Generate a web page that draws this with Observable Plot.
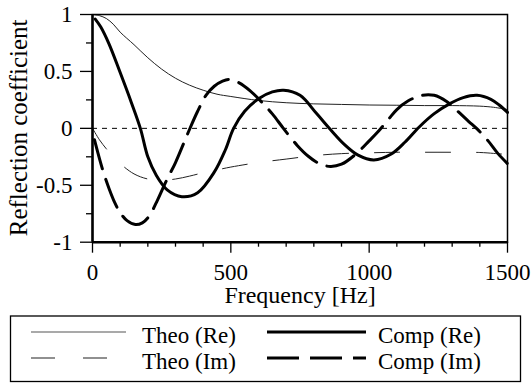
<!DOCTYPE html>
<html>
<head>
<meta charset="utf-8">
<script src="https://cdn.jsdelivr.net/npm/d3@7"></script>
<script src="https://cdn.jsdelivr.net/npm/@observablehq/plot@0.6"></script>
<style>
  html, body { margin: 0; padding: 0; background: #fff; }
  #wrap { position: relative; width: 531px; height: 383px; font-family: "Liberation Serif", "Times New Roman", serif; }
  #wrap svg, #wrap svg text { font-family: "Liberation Serif", "Times New Roman", serif !important; }
  #legend { position: absolute; left: 0; top: 314px; }
</style>
</head>
<body>
<div id="wrap"><div id="chart"></div><div id="legend"></div></div>
<script>
// ---- data ----
const freqTheo = [0, 25, 50, 75, 100, 150, 200, 250, 300, 350, 400, 450, 500, 600, 700, 800, 900, 1000, 1100, 1200, 1300, 1400, 1450, 1500];
const theoRe = [1.0, 0.99, 0.965, 0.915, 0.845, 0.735, 0.62, 0.52, 0.44, 0.38, 0.335, 0.30, 0.28, 0.245, 0.225, 0.215, 0.21, 0.205, 0.203, 0.2, 0.2, 0.195, 0.185, 0.165];
const theoIm = [0, -0.1, -0.18, -0.25, -0.31, -0.40, -0.445, -0.455, -0.445, -0.42, -0.39, -0.365, -0.34, -0.30, -0.27, -0.24, -0.222, -0.215, -0.21, -0.21, -0.21, -0.212, -0.22, -0.23];

const freqCompRe = [10, 30, 60, 100, 140, 173, 200, 230, 270, 323, 380, 440, 480, 510, 550, 600, 650, 691, 750, 810, 860, 910, 960, 1017, 1080, 1130, 1180, 1234, 1290, 1340, 1390, 1440, 1470, 1500];
const compRe = [0.96, 0.89, 0.74, 0.49, 0.23, 0.0, -0.25, -0.41, -0.54, -0.60, -0.565, -0.385, -0.19, 0.0, 0.15, 0.26, 0.32, 0.335, 0.29, 0.13, -0.01, -0.14, -0.235, -0.277, -0.225, -0.12, 0.01, 0.127, 0.215, 0.27, 0.29, 0.255, 0.205, 0.14];

const freqCompIm = [7, 20, 40, 60, 80, 100, 125, 155, 180, 205, 235, 265, 300, 347, 380, 410, 440, 470, 495, 530, 570, 610, 650, 690, 740, 780, 820, 860, 900, 950, 1000, 1030, 1070, 1100, 1140, 1190, 1235, 1280, 1320, 1360, 1390, 1430, 1465, 1500];
const compIm = [-0.1, -0.22, -0.39, -0.53, -0.65, -0.74, -0.81, -0.845, -0.83, -0.77, -0.63, -0.47, -0.30, -0.03, 0.15, 0.29, 0.37, 0.415, 0.43, 0.40, 0.33, 0.235, 0.127, 0.0, -0.15, -0.245, -0.31, -0.335, -0.315, -0.23, -0.11, -0.035, 0.08, 0.165, 0.24, 0.29, 0.29, 0.235, 0.15, 0.06, -0.005, -0.11, -0.22, -0.31];

const xTicks = [0, 500, 1000, 1500];
const xMinor = [100, 200, 300, 400, 600, 700, 800, 900, 1100, 1200, 1300, 1400];
const yTicks = [-1, -0.5, 0, 0.5, 1];
const yMinor = [-0.75, -0.25, 0.25, 0.75];

const xLabel = "Frequency [Hz]";
const yLabel = "Reflection coefficient";
const seriesNames = ["Theo (Re)", "Theo (Im)", "Comp (Re)", "Comp (Im)"];

// ---- build tables ----
const theoReData = freqTheo.map((f, i) => ({f, v: theoRe[i]}));
const theoImData = freqTheo.map((f, i) => ({f, v: theoIm[i]}));
const compReData = freqCompRe.map((f, i) => ({f, v: compRe[i]}));
const compImData = freqCompIm.map((f, i) => ({f, v: compIm[i]}));

const FONT = '"Liberation Serif", "Times New Roman", serif';
const FS_TICK = 23;
const FS_TITLE = 24;
const FS_YTITLE = 25;
const FS_LEG = 23;

const chart = Plot.plot({
  width: 531,
  height: 314,
  marginLeft: 92,
  marginRight: 24,
  marginTop: 14,
  marginBottom: 72.3,
  style: {fontFamily: FONT, fontSize: FS_TICK + "px", background: "white", color: "black"},
  x: {domain: [0, 1500], label: null},
  y: {domain: [-1, 1], label: null},
  marks: [
    Plot.ruleY([0], {stroke: "black", strokeWidth: 1, strokeDasharray: "5,5"}),
    Plot.line(theoReData, {x: "f", y: "v", stroke: "#222", strokeWidth: 1, curve: "catmull-rom"}),
    Plot.line(theoImData, {x: "f", y: "v", stroke: "#222", strokeWidth: 1, strokeDasharray: "25,26", curve: "catmull-rom"}),
    Plot.line(compReData, {x: "f", y: "v", stroke: "black", strokeWidth: 3, curve: "catmull-rom"}),
    Plot.line(compImData, {x: "f", y: "v", stroke: "black", strokeWidth: 3, strokeDasharray: "30,11", curve: "catmull-rom"}),
    Plot.frame({stroke: "black", strokeWidth: 1.5}),
    Plot.ruleX([0], {stroke: "black", strokeWidth: 2.5}),
    Plot.ruleY([-1], {stroke: "black", strokeWidth: 2.5}),
    Plot.axisX({ticks: xTicks, tickSize: 11, tickPadding: 10, tickFormat: d => String(d), fontSize: FS_TICK, strokeWidth: 1.3, label: null}),
    Plot.axisX({ticks: xMinor, tickSize: 5, tickFormat: () => "", strokeWidth: 1.3, label: null}),
    Plot.axisY({ticks: yTicks, tickSize: 12, tickPadding: 8, tickFormat: d => String(d), fontSize: FS_TICK, strokeWidth: 1.3, label: null}),
    Plot.axisY({ticks: yMinor, tickSize: 6, tickFormat: () => "", strokeWidth: 1.3, label: null}),
    Plot.text([xLabel], {frameAnchor: "bottom", dy: 61, fontSize: FS_TITLE, fill: "black"})
  ]
});
document.getElementById("chart").appendChild(chart);

// rotated y-axis title, centred on the plot frame
d3.select(chart).append("text")
  .attr("transform", `translate(27,${(14 + 241.7) / 2}) rotate(-90)`)
  .attr("text-anchor", "middle")
  .attr("font-size", FS_YTITLE)
  .attr("fill", "black")
  .style("font-family", FONT)
  .text(yLabel);

// ---- legend ----
const lg = d3.select("#legend").append("svg").attr("width", 531).attr("height", 69)
  .style("font-family", FONT).style("font-size", FS_LEG + "px");
lg.append("rect").attr("x", 10.5).attr("y", 2).attr("width", 510).attr("height", 65.5)
  .attr("fill", "white").attr("stroke", "black").attr("stroke-width", 1.3);
const items = [
  {name: seriesNames[0], x1: 31, x2: 126, tx: 142, y: 18, w: 1.2, dash: null, c: "#555"},
  {name: seriesNames[1], x1: 31, x2: 107, tx: 142, y: 44, w: 1.2, dash: "24,28", c: "#222"},
  {name: seriesNames[2], x1: 267, x2: 366, tx: 378, y: 18, w: 3, dash: null, c: "black"},
  {name: seriesNames[3], x1: 267, x2: 366, tx: 378, y: 44, w: 3, dash: "32,11", c: "black"}
];
for (const it of items) {
  lg.append("line").attr("x1", it.x1).attr("x2", it.x2).attr("y1", it.y).attr("y2", it.y)
    .attr("stroke", it.c).attr("stroke-width", it.w).attr("stroke-dasharray", it.dash);
  lg.append("text").attr("x", it.tx).attr("y", it.y + 4).attr("dy", "0.32em").text(it.name);
}
</script>
</body>
</html>
